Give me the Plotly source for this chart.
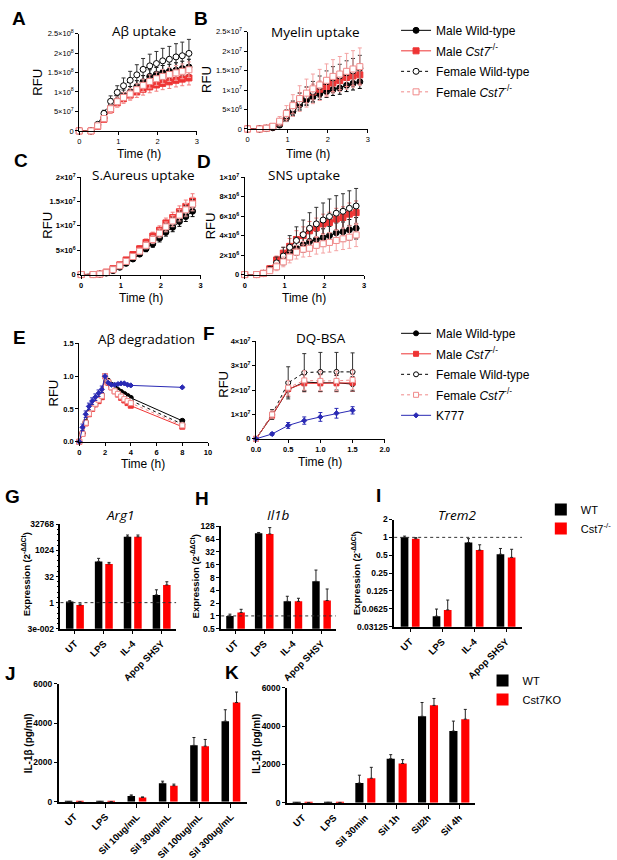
import numpy as np
import plotly.graph_objects as go

W, H = 617, 860

# ── UPTAKE TIME COURSES (A-D) ──────────────────
T_UPTAKE = [0, 0.3, 0.47, 0.63, 0.8, 0.97, 1.13, 1.3, 1.47, 1.63, 1.8, 1.97, 2.13, 2.3, 2.47, 2.63, 2.8]

# A: Aβ uptake (x1e8 RFU)
A_MWT = [0, 0, 0.13, 0.33, 0.58, 0.78, 0.92, 1.0, 1.14, 1.26, 1.4, 1.46, 1.5, 1.53, 1.56, 1.6, 1.64]
A_MKO = [0, 0, 0.12, 0.3, 0.55, 0.72, 0.83, 0.92, 1.0, 1.07, 1.13, 1.18, 1.22, 1.26, 1.3, 1.33, 1.36]
A_FWT = [0, 0, 0.17, 0.45, 0.76, 0.99, 1.16, 1.3, 1.44, 1.58, 1.67, 1.73, 1.8, 1.84, 1.9, 1.93, 1.99]
A_FKO = [0, 0, 0.13, 0.32, 0.57, 0.75, 0.86, 0.95, 1.06, 1.17, 1.27, 1.34, 1.4, 1.45, 1.49, 1.53, 1.57]
A_MWT_E = [0, 0, 0.03, 0.06, 0.1, 0.12, 0.13, 0.14, 0.15, 0.16, 0.17, 0.17, 0.18, 0.18, 0.19, 0.19, 0.2]
A_MKO_E = [0, 0, 0.03, 0.06, 0.1, 0.11, 0.12, 0.13, 0.14, 0.15, 0.15, 0.16, 0.16, 0.17, 0.17, 0.17, 0.18]
A_FWT_E = [0, 0, 0.04, 0.08, 0.14, 0.17, 0.2, 0.23, 0.26, 0.28, 0.3, 0.31, 0.32, 0.33, 0.34, 0.35, 0.36]
A_FKO_E = [0, 0, 0.03, 0.06, 0.1, 0.12, 0.13, 0.14, 0.15, 0.16, 0.17, 0.17, 0.18, 0.18, 0.19, 0.19, 0.2]

# B: Myelin uptake (x1e7 RFU)
B_MWT = [0, 0, 0.01, 0.03, 0.1, 0.28, 0.45, 0.62, 0.74, 0.82, 0.9, 0.96, 1.01, 1.05, 1.12, 1.17, 1.21]
B_MKO = [0, 0, 0.02, 0.06, 0.17, 0.36, 0.55, 0.75, 0.87, 0.95, 1.02, 1.09, 1.18, 1.24, 1.32, 1.36, 1.39]
B_FWT = [0, 0, 0.02, 0.06, 0.16, 0.34, 0.52, 0.7, 0.84, 0.96, 1.09, 1.21, 1.31, 1.36, 1.44, 1.49, 1.56]
B_FKO = [0, 0, 0.02, 0.07, 0.2, 0.4, 0.6, 0.78, 0.92, 1.03, 1.13, 1.25, 1.35, 1.41, 1.48, 1.54, 1.6]
B_MWT_E = [0, 0, 0.01, 0.03, 0.06, 0.08, 0.1, 0.11, 0.12, 0.13, 0.14, 0.15, 0.15, 0.16, 0.16, 0.17, 0.17]
B_MKO_E = [0, 0, 0.01, 0.04, 0.08, 0.12, 0.15, 0.18, 0.2, 0.2, 0.21, 0.22, 0.22, 0.23, 0.23, 0.24, 0.24]
B_FWT_E = [0, 0, 0.02, 0.05, 0.1, 0.15, 0.2, 0.22, 0.24, 0.26, 0.27, 0.28, 0.29, 0.3, 0.31, 0.32, 0.33]
B_FKO_E = [0, 0, 0.02, 0.06, 0.12, 0.2, 0.28, 0.33, 0.36, 0.38, 0.4, 0.42, 0.43, 0.45, 0.46, 0.47, 0.48]

# C: S.Aureus uptake (x1e7 RFU)
C_MWT = [0, 0, 0.01, 0.03, 0.08, 0.15, 0.23, 0.32, 0.42, 0.53, 0.63, 0.75, 0.87, 0.97, 1.09, 1.19, 1.3]
C_MKO = [0, 0, 0.01, 0.05, 0.12, 0.2, 0.3, 0.41, 0.53, 0.66, 0.79, 0.91, 1.06, 1.17, 1.29, 1.4, 1.51]
C_FWT = [0, 0, 0.01, 0.04, 0.1, 0.17, 0.26, 0.36, 0.47, 0.59, 0.71, 0.83, 0.96, 1.07, 1.19, 1.3, 1.42]
C_FKO = [0, 0, 0.01, 0.04, 0.1, 0.18, 0.27, 0.37, 0.48, 0.6, 0.72, 0.85, 0.98, 1.1, 1.22, 1.33, 1.45]
C_MWT_E = [0, 0, 0.01, 0.01, 0.02, 0.03, 0.04, 0.05, 0.05, 0.06, 0.07, 0.08, 0.08, 0.09, 0.1, 0.1, 0.11]
C_MKO_E = [0, 0, 0.01, 0.01, 0.02, 0.03, 0.04, 0.05, 0.06, 0.07, 0.08, 0.09, 0.1, 0.11, 0.12, 0.13, 0.15]
C_FWT_E = [0, 0, 0.01, 0.01, 0.02, 0.03, 0.04, 0.05, 0.06, 0.07, 0.08, 0.08, 0.09, 0.1, 0.11, 0.12, 0.12]
C_FKO_E = [0, 0, 0.01, 0.01, 0.02, 0.03, 0.04, 0.05, 0.06, 0.07, 0.08, 0.09, 0.1, 0.11, 0.12, 0.13, 0.14]

# D: SNS uptake (x1e6 RFU)
D_MWT = [0, 0, 0.13, 0.6, 1.3, 1.7, 2.3, 2.7, 3.06, 3.4, 3.6, 3.8, 4.0, 4.3, 4.4, 4.6, 4.75]
D_MKO = [0, 0, 0.13, 0.6, 1.5, 2.2, 2.9, 3.6, 4.0, 4.5, 4.8, 5.2, 5.35, 5.7, 5.86, 6.2, 6.36]
D_FWT = [0, 0, 0.1, 0.5, 1.2, 1.9, 2.8, 3.5, 4.1, 4.75, 5.2, 5.6, 5.96, 6.3, 6.5, 6.8, 7.04]
D_FKO = [0, 0, 0.1, 0.4, 0.8, 1.3, 1.8, 2.3, 2.6, 2.7, 3.0, 3.16, 3.3, 3.5, 3.67, 3.84, 4.07]
D_MWT_E = [0, 0, 0.05, 0.2, 0.4, 0.5, 0.6, 0.7, 0.75, 0.8, 0.85, 0.9, 0.95, 1.0, 1.0, 1.05, 1.1]
D_MKO_E = [0, 0, 0.05, 0.2, 0.4, 0.6, 0.8, 0.9, 0.9, 0.95, 1.0, 1.0, 1.05, 1.1, 1.1, 1.15, 1.2]
D_FWT_E = [0, 0, 0.05, 0.3, 0.6, 0.9, 1.2, 1.4, 1.5, 1.6, 1.7, 1.75, 1.8, 1.8, 1.8, 1.8, 1.8]
D_FKO_E = [0, 0, 0.05, 0.2, 0.4, 0.5, 0.6, 0.7, 0.8, 0.85, 0.9, 0.95, 1.0, 1.05, 1.1, 1.15, 1.2]

# ── E: Aβ degradation (normalised RFU) ─────────
T_DEG = [0, 0.25, 0.5, 0.75, 1.0, 1.25, 1.5, 1.75, 2.0, 2.25, 2.5, 2.75, 3.0, 3.25, 3.5, 3.75, 4.0, 8.0]
E_MWT = [0, 0.13, 0.3, 0.45, 0.53, 0.6, 0.66, 0.72, 1.0, 0.93, 0.87, 0.83, 0.79, 0.76, 0.73, 0.7, 0.67, 0.32]
E_MKO = [0, 0.12, 0.28, 0.42, 0.5, 0.57, 0.62, 0.68, 1.0, 0.9, 0.83, 0.77, 0.72, 0.67, 0.63, 0.59, 0.55, 0.23]
E_FWT = [0, 0.13, 0.3, 0.44, 0.52, 0.59, 0.65, 0.71, 1.0, 0.92, 0.85, 0.8, 0.76, 0.72, 0.69, 0.66, 0.63, 0.27]
E_FKO = [0, 0.12, 0.29, 0.43, 0.51, 0.58, 0.64, 0.7, 1.0, 0.91, 0.83, 0.77, 0.73, 0.69, 0.65, 0.62, 0.59, 0.25]
E_K777 = [0, 0.22, 0.42, 0.54, 0.62, 0.68, 0.74, 0.8, 1.0, 0.9, 0.87, 0.87, 0.88, 0.89, 0.89, 0.87, 0.86, 0.83]
E_ERR = [0, 0.03, 0.03, 0.03, 0.03, 0.03, 0.03, 0.03, 0, 0.02, 0.02, 0.02, 0.02, 0.02, 0.02, 0.02, 0.02, 0.02]
E_K777_E = [0, 0.05, 0.05, 0.05, 0.05, 0.05, 0.05, 0.05, 0, 0.01, 0.01, 0.01, 0.01, 0.01, 0.01, 0.01, 0.01, 0.01]

# ── F: DQ-BSA (x1e7 RFU) ───────────────────────
T_DQ = [0, 0.25, 0.5, 0.75, 1.0, 1.25, 1.5]
F_MWT = [0, 0.95, 2.02, 2.33, 2.3, 2.3, 2.25]
F_MKO = [0, 0.95, 2.05, 2.28, 2.28, 2.28, 2.3]
F_FWT = [0, 1.0, 2.3, 2.72, 2.75, 2.75, 2.75]
F_FKO = [0, 1.0, 2.1, 2.4, 2.38, 2.38, 2.42]
F_K777 = [0, 0.2, 0.55, 0.75, 0.9, 1.05, 1.17]
F_MWT_E = [0, 0.15, 0.3, 0.35, 0.35, 0.3, 0.3]
F_MKO_E = [0, 0.15, 0.3, 0.35, 0.35, 0.35, 0.35]
F_FWT_E = [0, 0.2, 0.66, 0.78, 0.8, 0.8, 0.78]
F_FKO_E = [0, 0.15, 0.3, 0.4, 0.4, 0.4, 0.4]
F_K777_E = [0, 0.05, 0.12, 0.15, 0.18, 0.2, 0.15]

# ── G-I: qPCR (2^-ΔΔCt) ────────────────────────
QPCR_CATS = ["UT", "LPS", "IL-4", "Apop SHSY"]
G_WT = [1.15, 240, 6300, 2.8]
G_WT_E = [0.15, 120, 1700, 2.7]
G_KO = [0.72, 170, 6300, 10.5]
G_KO_E = [0.12, 40, 1700, 5.5]
H_WT = [1.0, 88, 2.2, 6.5]
H_WT_E = [0.1, 4, 0.7, 5.5]
H_KO = [1.2, 85, 2.2, 2.3]
H_KO_E = [0.23, 35, 0.4, 2.0]
I_WT = [1.0, 0.047, 0.82, 0.52]
I_WT_E = [0.05, 0.015, 0.13, 0.13]
I_KO = [0.95, 0.06, 0.61, 0.46]
I_KO_E = [0.04, 0.028, 0.14, 0.17]

# ── J-K: IL-1β ELISA (pg/ml) ───────────────────
J_CATS = ["UT", "LPS", "Sil 10ug/mL", "Sil 30ug/mL", "Sil 100ug/mL", "Sil 300ug/mL"]
J_WT = [12, 15, 300, 950, 2870, 4100]
J_WT_E = [5, 5, 50, 100, 400, 580]
J_KO = [10, 12, 220, 820, 2830, 5050]
J_KO_E = [5, 5, 30, 80, 340, 530]
K_CATS = ["UT", "LPS", "Sil 30min", "Sil 1h", "Sil2h", "Sil 4h"]
K_WT = [12, 18, 1030, 2300, 4510, 3740]
K_WT_E = [5, 5, 410, 210, 720, 520]
K_KO = [10, 15, 1280, 2050, 5080, 4360]
K_KO_E = [5, 5, 570, 200, 360, 510]

# ── STYLES ─────────────────────────────────────
BLACK, RED, PINK, BLUE = "#000000", "#ee3434", "#f08a8a", "#2a2ab4"
GROUPS = {
    "mwt": dict(name="Male Wild-type", color=BLACK, fill=BLACK, ecol=BLACK, symbol="circle", dash="solid"),
    "mko": dict(name="Male <i>Cst7</i><sup>-/-</sup>", color=RED, fill=RED, ecol="#f27c7c", symbol="square", dash="solid"),
    "fwt": dict(name="Female Wild-type", color=BLACK, fill="white", ecol="#333333", symbol="circle", dash="dot"),
    "fko": dict(name="Female <i>Cst7</i><sup>-/-</sup>", color=PINK, fill="white", ecol="#f4a4a4", symbol="square", dash="dot"),
    "k777": dict(name="K777", color=BLUE, fill=BLUE, ecol=BLUE, symbol="diamond", dash="solid"),
}
FONT = "Liberation Sans"


def dom(x0, x1, y0, y1):
    return [x0 / W, x1 / W], [1 - y1 / H, 1 - y0 / H]


def sfx(n):
    return "" if n == 1 else str(n)


fig = go.Figure()


def add_curve(n, key, x, y, err, scale, msize, legend=None, group=""):
    g = GROUPS[key]
    fig.add_trace(go.Scatter(
        x=x, y=np.array(y) * scale,
        error_y=dict(type="data", array=np.array(err) * scale, color=g["ecol"], thickness=1, width=2),
        mode="lines+markers", name=g["name"],
        line=dict(color=g["color"], width=1, dash=g["dash"]),
        marker=dict(symbol=g["symbol"], size=msize, color=g["fill"], line=dict(color=g["color"], width=1)),
        xaxis="x" + sfx(n), yaxis="y" + sfx(n), cliponaxis=False,
        legendgroup=group + key,
        showlegend=legend is not None, legend=legend or "legend"))


def add_bars(n, cats, wt, wt_e, ko, ko_e, bw, gap, names=None, legend=None):
    for vals, err, col, off, nm in [(wt, wt_e, "black", -bw - gap / 2, "WT"),
                                    (ko, ko_e, "#ff0000", gap / 2, "Cst7<sup>-/-</sup>")]:
        fig.add_trace(go.Bar(
            x=cats, y=vals, width=bw, offset=off, marker=dict(color=col, line=dict(width=0)),
            error_y=dict(type="data", array=err, arrayminus=[0] * len(err), symmetric=False,
                         color="#222222", thickness=1, width=1.5),
            name=names[nm] if names else nm, xaxis="x" + sfx(n), yaxis="y" + sfx(n),
            legendgroup=f"bar{n}{nm}",
            showlegend=legend is not None, legend=legend or "legend"))


# A-D
UPTAKE = [
    ((A_MWT, A_MKO, A_FWT, A_FKO), (A_MWT_E, A_MKO_E, A_FWT_E, A_FKO_E), 1e8),
    ((B_MWT, B_MKO, B_FWT, B_FKO), (B_MWT_E, B_MKO_E, B_FWT_E, B_FKO_E), 1e7),
    ((C_MWT, C_MKO, C_FWT, C_FKO), (C_MWT_E, C_MKO_E, C_FWT_E, C_FKO_E), 1e7),
    ((D_MWT, D_MKO, D_FWT, D_FKO), (D_MWT_E, D_MKO_E, D_FWT_E, D_FKO_E), 1e6),
]
for n, (vals, errs, scale) in enumerate(UPTAKE, start=1):
    for key, y, e in zip(["mwt", "mko", "fwt", "fko"], vals, errs):
        add_curve(n, key, T_UPTAKE, y, e, scale, 6, legend="legend" if n == 1 else None, group="up")

# E
for key, y, e in zip(["mwt", "mko", "fwt", "fko", "k777"],
                     [E_MWT, E_MKO, E_FWT, E_FKO, E_K777], [E_ERR, E_ERR, E_ERR, E_ERR, E_K777_E]):
    add_curve(5, key, T_DEG, y, e, 1, 4 if key == "k777" else 5, group="deg")
# F
for key, y, e in zip(["mwt", "mko", "fwt", "fko", "k777"],
                     [F_MWT, F_MKO, F_FWT, F_FKO, F_K777], [F_MWT_E, F_MKO_E, F_FWT_E, F_FKO_E, F_K777_E]):
    add_curve(6, key, T_DQ, y, e, 1e7, 4 if key == "k777" else 5, legend="legend2", group="deg")

# G-K bars
add_bars(7, QPCR_CATS, G_WT, G_WT_E, G_KO, G_KO_E, 0.26, 0.1)
add_bars(8, QPCR_CATS, H_WT, H_WT_E, H_KO, H_KO_E, 0.26, 0.13)
add_bars(9, QPCR_CATS, I_WT, I_WT_E, I_KO, I_KO_E, 0.24, 0.11, legend="legend3")
add_bars(10, J_CATS, J_WT, J_WT_E, J_KO, J_KO_E, 0.24, 0.12)
add_bars(11, K_CATS, K_WT, K_WT_E, K_KO, K_KO_E, 0.26, 0.12,
         names={"WT": "WT", "Cst7<sup>-/-</sup>": "Cst7KO"}, legend="legend4")

# ── AXES ───────────────────────────────────────
def sup(m, e):
    return f"{m}×10<sup>{e}</sup>"


TICK = dict(family=FONT, size=7.5, color="black")
TICKB = dict(family=FONT, size=7.5, color="black", weight="bold")
TICKY = dict(family=FONT, size=8.5, color="black", weight="bold")
TICKX = dict(family=FONT, size=9.5, color="black", weight="bold")
base = dict(showline=True, linecolor="black", linewidth=1, ticks="outside", ticklen=3,
            tickcolor="black", showgrid=False, zeroline=False)

layout_axes = {}
PANELS = [
    # n, box(px), xrange, xticks, xtext, yrange, yticks, ytext, tickfont
    (1, (79, 204, 28, 127), [0, 3], [0, 1, 2, 3], ["0", "1", "2", "3"], [0, 2.5e8],
     [0, 5e7, 1e8, 1.5e8, 2e8, 2.5e8], ["0", sup(5, 7), sup(1, 8), sup(1.5, 8), sup(2, 8), sup(2.5, 8)], TICK),
    (2, (258, 386, 26, 125), [0, 3], [0, 1, 2, 3], ["0", "1", "2", "3"], [0, 2.5e7],
     [0, 5e6, 1e7, 1.5e7, 2e7, 2.5e7], ["0", sup(5, 6), sup(1, 7), sup(1.5, 7), sup(2, 7), sup(2.5, 7)], TICK),
    (3, (81, 208, 174, 273), [0, 3], [0, 1, 2, 3], ["0", "1", "2", "3"], [0, 2e7],
     [0, 5e6, 1e7, 1.5e7, 2e7], ["0", sup(5, 6), sup(1, 7), sup(1.5, 7), sup(2, 7)], TICKB),
    (4, (255, 382, 174, 273), [0, 3], [0, 1, 2, 3], ["0", "1", "2", "3"], [0, 1e7],
     [0, 2e6, 4e6, 6e6, 8e6, 1e7], ["0", sup(2, 6), sup(4, 6), sup(6, 6), sup(8, 6), sup(1, 7)], TICKB),
    (5, (79, 216, 343, 443), [0, 10], [0, 2, 4, 6, 8, 10], ["0", "2", "4", "6", "8", "10"], [0, 1.5],
     [0, 0.5, 1.0, 1.5], ["0.0", "0.5", "1.0", "1.5"], TICKB),
    (6, (267, 404, 341, 440), [0, 2], [0, 0.5, 1, 1.5, 2], ["0.0", "0.5", "1.0", "1.5", "2.0"], [0, 4e7],
     [0, 1e7, 2e7, 3e7, 4e7], ["0", sup(1, 7), sup(2, 7), sup(3, 7), sup(4, 7)], TICKB),
]
for n, box, xr, xt, xtt, yr, yt, ytt, tf in PANELS:
    xd, yd = dom(*box)
    layout_axes["xaxis" + sfx(n)] = dict(base, domain=xd, anchor="y" + sfx(n), range=xr,
                                         tickvals=xt, ticktext=xtt, tickfont=tf)
    layout_axes["yaxis" + sfx(n)] = dict(base, domain=yd, anchor="x" + sfx(n), range=yr,
                                         tickvals=yt, ticktext=ytt, tickfont=tf)

G_TICKS = [2.0 ** -5, 1, 32, 1024, 32768]
G_TEXT = ["3e-002", "1", "32", "1024", "32768"]
G_MINOR = [2.0 ** k for k in range(-5, 16)]
H_TICKS = [0.5, 1, 2, 4, 8, 16, 32, 64, 128]
H_TEXT = ["0.5", "1", "2", "4", "8", "16", "32", "64", "128"]
I_TICKS = [0.03125, 0.0625, 0.125, 0.25, 0.5, 1, 2]
I_TEXT = ["0.03125", "0.0625", "0.125", "0.25", "0.5", "1", "2"]

BARPANELS = [
    (7, (59, 182, 527, 633), "log", [np.log10(2 ** -5), np.log10(2 ** 15)], G_TICKS, G_TEXT, 4),
    (8, (230, 352, 529, 633), "log", [np.log10(0.5), np.log10(128)], H_TICKS, H_TEXT, 4),
    (9, (414, 550, 522, 631), "log", [np.log10(0.03125), np.log10(2)], I_TICKS, I_TEXT, 4),
    (10, (57, 257, 689, 809), "linear", [0, 6000], [0, 2000, 4000, 6000], ["0", "2000", "4000", "6000"], 6),
    (11, (300, 500, 693, 810), "linear", [0, 6000], [0, 2000, 4000, 6000], ["0", "2000", "4000", "6000"], 6),
]
for n, box, ytype, yr, yt, ytt, ncat in BARPANELS:
    xd, yd = dom(*box)
    layout_axes["xaxis" + sfx(n)] = dict(base, domain=xd, anchor="y" + sfx(n), type="category",
                                         range=[-0.5, ncat - 0.5], tickangle=-45, tickfont=TICKX,
                                         ticklen=4, linewidth=1.5)
    layout_axes["yaxis" + sfx(n)] = dict(base, domain=yd, anchor="x" + sfx(n), type=ytype, range=yr,
                                         tickvals=yt, ticktext=ytt, tickfont=TICKY, ticklen=3, linewidth=1.5)
layout_axes["yaxis7"]["minor"] = dict(tickmode="array", tickvals=G_MINOR, ticks="outside",
                                      ticklen=2, tickcolor="black")

# dotted reference line at 1 in G-I
for n in (7, 8, 9):
    fig.add_shape(type="line", xref=f"x{n} domain", yref=f"y{n}", x0=0, x1=1, y0=1, y1=1,
                  line=dict(color="#333333", width=1, dash="dot"))

# ── TEXT ───────────────────────────────────────
def note(x, y, text, size, weight="normal", family=FONT, angle=0):
    return dict(x=x / W, y=1 - y / H, xref="paper", yref="paper", text=text, showarrow=False,
                xanchor="center", yanchor="middle", textangle=angle,
                font=dict(family=family, size=size, color="black", weight=weight))


ann = []
for letter, x, y in [("A", 15, 13), ("B", 208, 13), ("C", 17, 157), ("D", 212, 158), ("E", 15, 337),
                     ("F", 217, 333), ("G", 8, 499), ("H", 210, 501), ("I", 397, 498), ("J", 6, 679),
                     ("K", 242, 678)]:
    ann.append(note(x, y, letter, 19, "bold"))
for text, x, y in [("Aβ uptake", 148, 25), ("Myelin uptake", 330, 26), ("S.Aureus uptake", 147, 172),
                   ("SNS uptake", 318, 172), ("Aβ degradation", 151, 339), ("DQ-BSA", 336, 338),
                   ("<i>Arg1</i>", 122, 517), ("<i>Il1b</i>", 291, 517), ("<i>Trem2</i>", 481, 517)]:
    ann.append(note(x, y, text, 13.5, family="Open Sans"))
for x, y in [(35, 77), (215, 75), (45, 223), (218, 223), (52, 393), (233, 385)]:
    ann.append(note(x, y, "RFU", 13, angle=-90))
for x, y in [(143, 150), (322, 150), (145, 297), (318, 297), (147, 466), (335, 464)]:
    ann.append(note(x, y, "Time (h)", 12))
for x, y in [(22, 578), (202, 580), (373, 577)]:
    ann.append(note(x, y, "Expression (2<sup>-ΔΔCt</sup>)", 9.5, "bold", angle=-90))
for x, y in [(25, 750), (268, 750)]:
    ann.append(note(x, y, "IL-1β (pg/ml)", 10, "bold", angle=-90))

LEG = dict(xanchor="left", yanchor="top", bgcolor="rgba(0,0,0,0)", itemwidth=30)
fig.update_layout(
    width=W, height=H, autosize=False, margin=dict(l=0, r=0, t=0, b=0),
    paper_bgcolor="white", plot_bgcolor="white", barmode="overlay",
    font=dict(family=FONT, color="black"),
    annotations=ann,
    legend=dict(LEG, x=416 / W, y=1 - 10 / H, tracegroupgap=1.5, font=dict(family=FONT, size=12)),
    legend2=dict(LEG, x=416 / W, y=1 - 318 / H, tracegroupgap=1.5, font=dict(family=FONT, size=12)),
    legend3=dict(LEG, x=570 / W, y=1 - 497 / H, tracegroupgap=0, font=dict(family=FONT, size=11)),
    legend4=dict(LEG, x=508 / W, y=1 - 671 / H, tracegroupgap=0, font=dict(family=FONT, size=11)),
    **layout_axes,
)

# page body margin off so the 617x860 figure sits at the window corner
fig.write_html("out.html", config={"displayModeBar": False},
               post_script="document.body.style.margin='0px';")
